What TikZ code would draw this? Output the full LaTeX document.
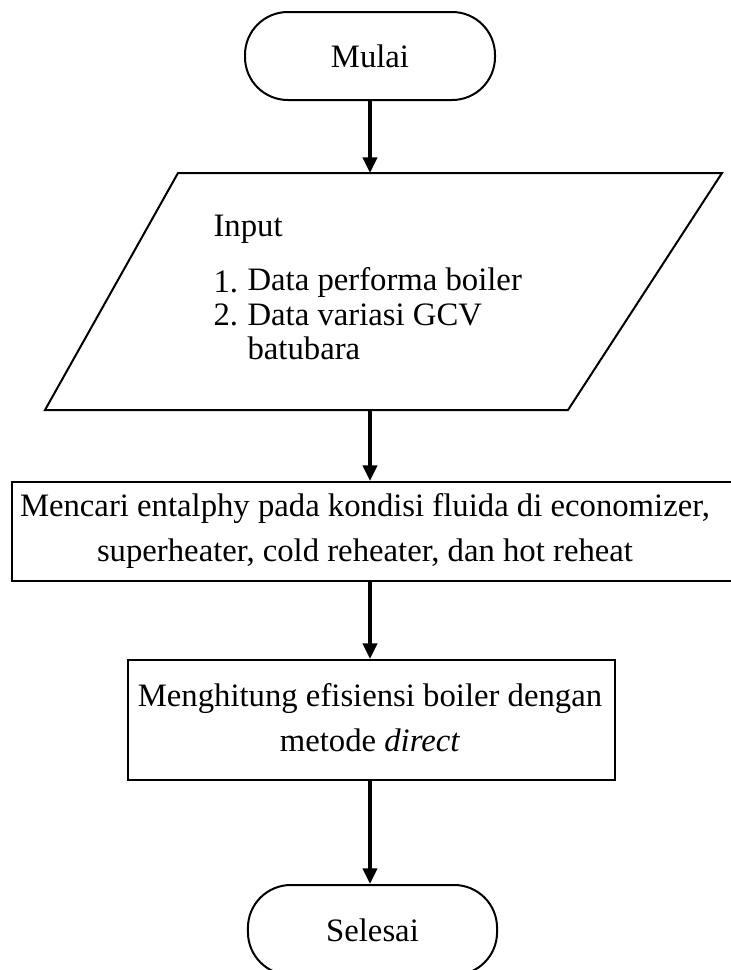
\documentclass[tikz,border=0pt]{standalone}
\usepackage{fontspec}
\setmainfont{Liberation Serif}
\usetikzlibrary{arrows.meta}
\tikzset{
    terminal/.style={draw, line width=0.7pt, rounded corners=15pt, inner sep=0pt},
    procbox/.style={draw, line width=0.7pt, inner sep=0pt},
    flowarrow/.style={line width=1.2pt, -{Triangle[width=5pt,length=5.5pt]}},
    txt/.style={inner sep=0pt, font=\fontsize{11.45}{15.75}\selectfont}
}
\begin{document}
\begin{tikzpicture}[x=0.35pt, y=-0.35pt]
    \useasboundingbox (0,0) rectangle (731,970);
    \node[terminal, minimum width=87.5pt, minimum height=30.8pt, txt] (mulai) at (370,56) {Mulai};
    % input
    \draw[line width=0.7pt] (45,410) coordinate (A)
    -- (178,173) coordinate (B)
    -- (722,173) coordinate (C)
    -- (568,410) coordinate (D) -- cycle;
    \coordinate (inTop) at (370,173);
    \coordinate (inBot) at (370,410);
    \node[txt, anchor=west] (input) at (213,229) {Input};
    \node[txt, anchor=west] (num1) at (213,282) {1.};
    \node[txt, anchor=west] (item1) at (247,282) {Data performa boiler};
    \node[txt, anchor=west] (num2) at (213,315) {2.};
    \node[txt, anchor=west] (item2) at (247,315) {Data variasi GCV};
    \node[txt, anchor=west] (item2b) at (247,348) {batubara};
    % proses
    \node[procbox, minimum width=256.6pt, minimum height=34.65pt] (cari) at (378.5,531.5) {};
    \node[txt, align=center] (caritxt) at (365,531) {Mencari entalphy pada kondisi fluida di economizer,\\superheater, cold reheater, dan hot reheat};
    \node[procbox, minimum width=170.5pt, minimum height=42pt] (hitung) at (371.5,720) {};
    \node[txt, align=center] (hitungtxt) at (370,718) {Menghitung efisiensi boiler dengan\\metode \textit{direct}};
    \node[terminal, minimum width=87.2pt, minimum height=31.5pt, txt] (selesai) at (372.5,930) {Selesai};
    \draw[flowarrow] (mulai) -- (inTop);
    \draw[flowarrow] (inBot) -- (inBot |- cari.north);
    \draw[flowarrow] (inBot |- cari.south) -- (inBot |- hitung.north);
    \draw[flowarrow] (inBot |- hitung.south) -- (inBot |- selesai.north);
\end{tikzpicture}
\end{document}
